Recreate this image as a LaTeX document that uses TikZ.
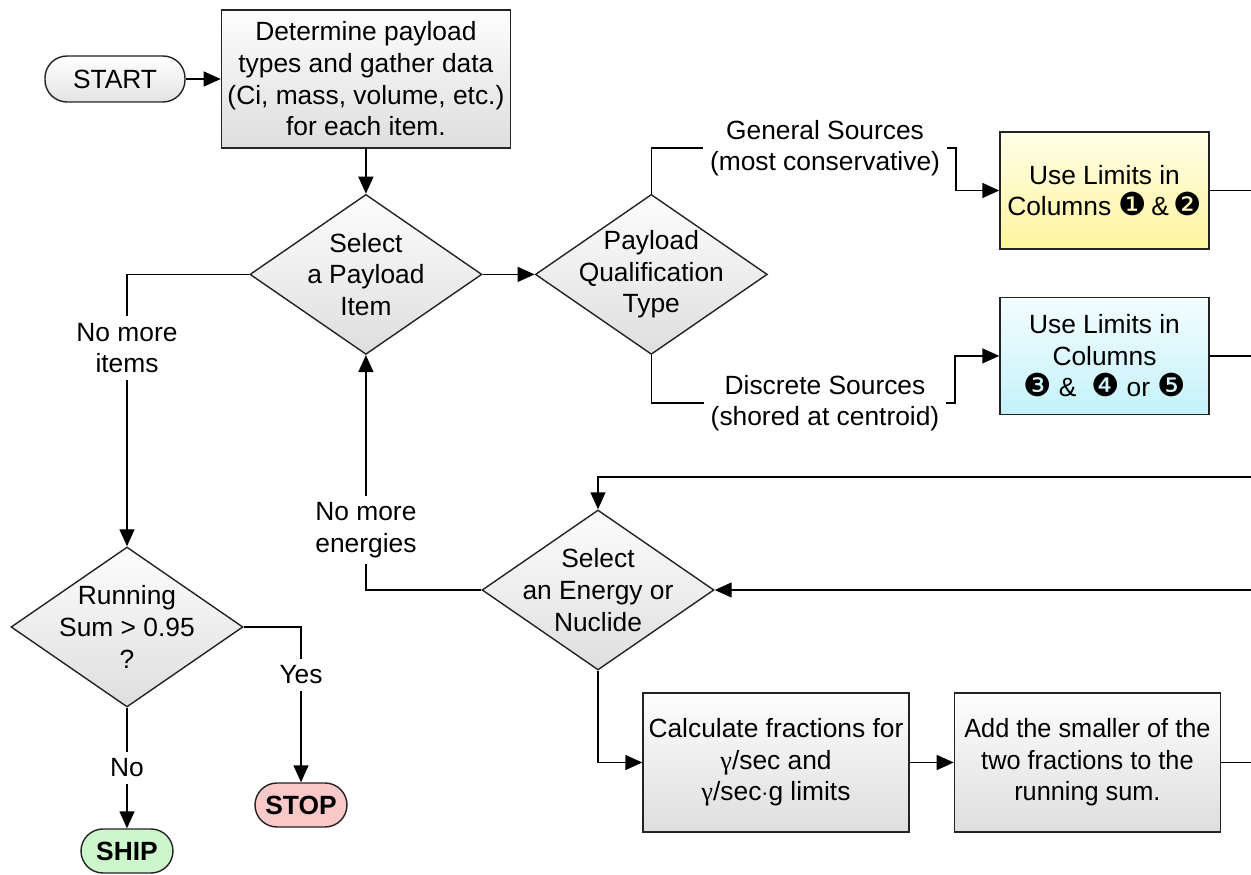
\documentclass[tikz,border=0pt]{standalone}
\usepackage{fontspec}
\setmainfont{Liberation Sans}
\newfontfamily\narrowfont[FakeStretch=0.96]{Liberation Sans}
\newfontfamily\dingfont{DejaVu Sans}
\newfontfamily\greekfont{Liberation Serif}
\usetikzlibrary{shapes.geometric, arrows.meta, positioning}
\definecolor{boxtop}{RGB}{253, 253, 253}
\definecolor{boxbot}{RGB}{222, 222, 222}
\definecolor{yeltop}{RGB}{255, 254, 232}
\definecolor{yelbot}{RGB}{255, 244, 158}
\definecolor{bluetop}{RGB}{244, 253, 255}
\definecolor{bluebot}{RGB}{196, 242, 250}
\definecolor{stoppink}{RGB}{249, 200, 200}
\definecolor{shipgreen}{RGB}{204, 246, 204}
\definecolor{edgegray}{RGB}{35, 35, 35}
\newcommand{\colnum}[1]{{\dingfont\fontsize{18}{18}\selectfont #1}}
\newcommand{\gam}{{\greekfont γ}}

\begin{document}
\begin{tikzpicture}[
      font=\fontsize{15}{18}\selectfont, >={Triangle[length=0.34cm, width=0.3cm]},
      procbox/.style={rectangle, draw=edgegray, line width=0.8pt, top color=boxtop, bottom color=boxbot, minimum width=5.32cm, minimum height=2.78cm, inner sep=2pt, align=center},
      limbox/.style={procbox, minimum width=4.18cm, minimum height=2.34cm},
      decision/.style={diamond, draw=edgegray, line width=0.8pt, top color=boxtop, bottom color=boxbot, minimum width=4.64cm, minimum height=3.2cm, inner sep=0pt},
      dtext/.style={align=center, inner sep=0pt},
      terminal/.style={rectangle, rounded corners=0.44cm, draw=edgegray, line width=0.8pt, minimum width=1.84cm, minimum height=0.88cm, inner sep=2pt},
      linelabel/.style={align=center, inner sep=0.13cm},
      line/.style={draw=black, line width=0.8pt}
    ]
      \useasboundingbox (0,0) rectangle (25.02,-17.5);

      \node (start) [terminal, top color=white, bottom color=gray!22, minimum width=2.8cm, minimum height=0.92cm] at (2.30,-1.58) {START};
      \node (det) [procbox, right=0.7cm of start, minimum width=5.78cm, minimum height=2.76cm] {Determine payload\\types and gather data\\(Ci, mass, volume, etc.)\\for each item.};
      \node (item) [decision, below=0.9cm of det, label={[dtext]center:{Select\\a Payload\\Item}}] {};
      \node (qual) [decision, right=1.04cm of item, label={[dtext]center:{Payload\\Qualification\\Type}}] {};
      \node (gen) [linelabel] at (16.5,-2.96) {General Sources\\(most conservative)};
      \node (disc) [linelabel] at (16.5,-8.06) {Discrete Sources\\(shored at centroid)};
      \node (lim12) [limbox, top color=yeltop, bottom color=yelbot] at (22.09,-3.81) {Use Limits in\\Columns \colnum{❶}\,\&\,\colnum{❷}};
      \node (lim345) [limbox, top color=bluetop, bottom color=bluebot, below=0.94cm of lim12] {Use Limits in\\Columns\\\colnum{❸} \&\ \ \colnum{❹} or \colnum{❺}};

      \node (energy) [decision, label={[dtext]center:{Select\\an Energy or\\Nuclide}}] at (11.96,-11.8) {};
      \node (calc) [procbox] at (15.52,-15.25) {Calculate fractions for\\\gam/sec and\\\gam/sec$\cdot$g limits};
      \node (add) [procbox, font=\narrowfont\fontsize{15}{18}\selectfont, right=0.88cm of calc] {Add the smaller of the\\two fractions to the\\running sum.};

      \node (sum) [decision, label={[dtext]center:{Running\\Sum > 0.95\\?}}] at (2.54,-12.54) {};
      \node (nmitems) [linelabel] at (2.54,-6.96) {No more\\items};
      \node (nmen) [linelabel] at (item.south |- 0,-10.6) {No more\\energies};
      \node (yes) [linelabel] at (6.02,-13.5) {Yes};
      \node (no) [linelabel] at (2.54,-15.36) {No};
      \node (stop) [terminal, fill=stoppink, font=\fontsize{15}{18}\selectfont\bfseries] at (6.02,-16.1) {STOP};
      \node (ship) [terminal, fill=shipgreen, font=\fontsize{15}{18}\selectfont\bfseries] at (2.54,-17.02) {SHIP};

      % loose ends running off the right side
      \coordinate (rim) at (25.02,0);
      \coordinate (loopin) at (25.02,-9.54);
      \coordinate (backin) at (25.02,-11.8);

      \draw[line, ->] (start) -- (det);
      \draw[line, ->] (det) -- (item);
      \draw[line, ->] (item) -- (qual);
      \draw[line] (qual.north) |- (gen.west);
      \draw[line, ->] (gen.east) -- ++(0.18,0) |- (lim12.west);
      \draw[line] (qual.south) |- (disc.west);
      \draw[line, ->] (disc.east) -- ++(0.18,0) |- (lim345.west);
      \draw[line] (lim12.east) -- (lim12.east -| rim);
      \draw[line] (lim345.east) -- (lim345.east -| rim);
      \draw[line, ->] (loopin) -| (energy.north);
      \draw[line, ->] (backin) -- (energy.east);
      \draw[line] (energy.west) -| (nmen.south);
      \draw[line, ->] (nmen.north) -- (item.south);
      \draw[line, ->] (energy.south) |- (calc.west);
      \draw[line, ->] (calc) -- (add);
      \draw[line] (add.east) -- (add.east -| rim);
      \draw[line] (item.west) -| (nmitems.north);
      \draw[line, ->] (nmitems.south) -- (sum.north);
      \draw[line] (sum.east) -| (yes.north);
      \draw[line, ->] (yes.south) -- (stop.north);
      \draw[line] (sum.south) -- (no.north);
      \draw[line, ->] (no.south) -- (ship.north);
    \end{tikzpicture}
\end{document}
